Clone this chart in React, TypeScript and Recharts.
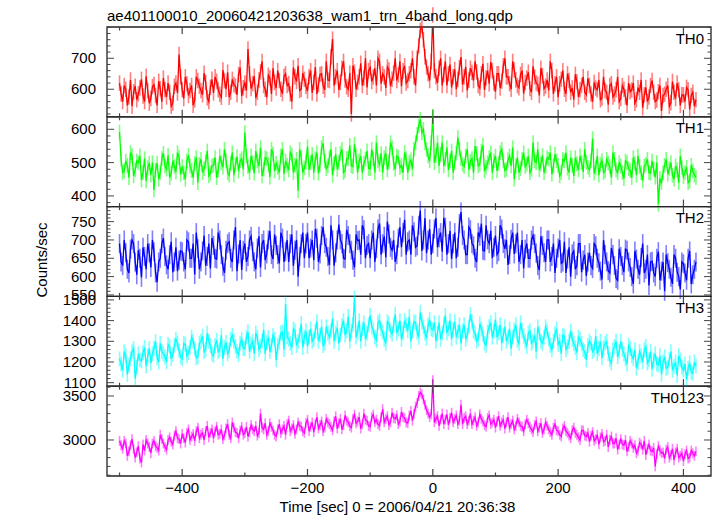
import React from 'react';
import { LineChart, Line, XAxis, YAxis, ErrorBar, ReferenceArea } from 'recharts';

const title = 'ae401100010_20060421203638_wam1_trn_4band_long.qdp';
const xLabel = 'Time [sec] 0 = 2006/04/21 20:36:38';
const yLabel = 'Counts/sec';

// time bins (s): first bin time and bin width
const binStart = -500;
const binSize = 2.5;

const th0 = [
  620,585, 560,612, 600,548, 575,630, 545,592, 610,566, 585,604, 632,578, 560,642, 595,555,
  570,608, 615,580, 548,626, 602,560, 636,598, 575,620, 590,545, 555,610, 620,588, 712,640,
  598,570, 640,618, 580,596, 612,548, 565,640, 628,610, 596,582, 652,622, 572,560, 606,632,
  588,640, 626,598, 584,574, 662,628, 600,655, 574,590, 632,615, 610,582, 648,670, 578,605,
  620,596, 730,650, 602,618, 642,572, 590,630, 656,690, 612,600, 574,645, 636,585, 668,622,
  604,660, 628,600, 586,642, 650,612, 618,585, 560,670, 640,625, 676,596, 600,652, 632,610,
  594,640, 660,588, 622,672, 585,615, 648,650, 610,598, 690,630, 628,705, 762,612, 640,660,
  598,622, 668,690, 630,608, 600,652, 520,676, 655,600, 622,640, 684,612, 636,700, 606,660,
  670,625, 640,668, 612,700, 690,618, 650,640, 604,672, 662,610, 632,652, 700,628, 646,690,
  610,660, 676,620, 628,650, 660,700, 640,612, 700,740, 790,805, 760,705, 672,650, 628,690,
  840,660, 640,620, 668,700, 612,648, 690,612, 650,680, 606,640, 664,600, 632,670, 704,615,
  640,672, 596,630, 668,655, 628,690, 656,612, 604,650, 682,598, 636,660, 618,688, 660,620,
  592,650, 650,604, 626,676, 700,640, 640,618, 600,690, 662,630, 612,605, 648,660, 586,622,
  636,655, 602,590, 674,640, 620,616, 580,668, 644,602, 610,630, 596,690, 660,585, 618,640,
  574,618, 632,660, 600,585, 650,628, 590,604, 566,648, 624,575, 598,612, 640,590, 582,635,
  612,585, 560,622, 604,598, 630,566, 572,640, 596,590, 550,612, 618,575, 584,598, 640,560,
  570,612, 600,575, 548,620, 592,598, 620,555, 566,605, 590,630, 540,582, 606,560, 575,612,
  628,590, 560,565, 592,612, 530,580, 584,600, 612,545, 556,625, 590,570, 620,598, 548,582,
  582,560, 606,598, 535,580, 590,545, 566,
];

const th1 = [
  592,510, 470,475, 505,492, 455,530, 520,460, 478,505, 500,520, 448,470, 512,445, 485,498,
  462,500, 418,478, 498,450, 470,512, 528,490, 480,522, 455,468, 505,488, 472,530, 515,465,
  488,470, 450,505, 522,490, 476,455, 498,515, 440,495, 510,470, 482,502, 535,460, 468,490,
  492,515, 455,478, 520,500, 486,540, 506,470, 462,498, 530,462, 494,518, 474,505, 512,480,
  590,520, 488,470, 520,500, 468,535, 505,490, 545,460, 480,515, 512,495, 456,540, 526,475,
  498,485, 470,520, 540,466, 505,492, 478,530, 522,470, 492,510, 416,540, 515,470, 484,502,
  548,478, 500,525, 470,512, 530,468, 495,545, 558,505, 482,490, 515,540, 462,498, 525,480,
  500,528, 540,470, 476,512, 512,552, 490,488, 555,520, 470,505, 520,470, 498,510, 535,482,
  482,540, 512,470, 560,505, 494,528, 470,515, 528,478, 502,560, 545,498, 480,520, 516,485,
  492,470, 530,512, 470,500, 508,480, 540,560, 585,610, 630,590, 600,560, 540,520, 505,560,
  640,500, 520,560, 490,525, 560,490, 510,545, 478,505, 535,470, 500,528, 575,540, 512,495,
  488,520, 540,478, 504,512, 470,550, 528,490, 495,535, 552,475, 486,500, 515,530, 470,505,
  520,475, 498,530, 540,505, 476,480, 508,520, 490,545, 450,490, 515,470, 482,510, 530,488,
  495,520, 470,480, 560,505, 500,540, 478,495, 522,470, 488,515, 510,530, 465,490, 525,505,
  492,460, 470,510, 505,530, 483,470, 515,492, 460,515, 496,478, 520,500, 472,540, 500,486,
  478,505, 572,468, 485,520, 462,495, 506,470, 475,510, 498,488, 455,530, 510,478, 470,500,
  490,470, 452,505, 500,482, 476,455, 515,498, 462,520, 488,470, 445,490, 495,510, 470,468,
  505,480, 456,500, 375,452, 440,470, 492,510, 465,482, 500,462, 450,490, 478,440, 520,485,
  458,470, 486,440, 445,492, 475,462, 455,
];

const th2 = [
  690,640, 630,700, 665,620, 610,675, 700,690, 640,605, 672,650, 598,680, 655,620, 690,665,
  625,700, 668,610, 585,640, 650,690, 705,655, 632,620, 660,695, 612,640, 680,615, 645,670,
  668,640, 620,700, 695,650, 650,690, 606,720, 676,620, 640,670, 712,630, 655,690, 622,705,
  685,650, 648,720, 700,660, 628,610, 672,690, 695,650, 640,700, 735,615, 662,700, 618,672,
  690,640, 655,700, 710,668, 640,620, 678,710, 625,690, 700,645, 662,700, 725,660, 648,715,
  685,660, 636,720, 705,640, 668,700, 640,690, 715,630, 672,700, 600,655, 690,720, 650,690,
  720,650, 678,700, 645,730, 705,640, 662,712, 735,690, 680,655, 632,740, 700,630, 665,700,
  742,700, 690,650, 648,728, 712,690, 672,645, 625,715, 698,700, 660,740, 728,650, 685,690,
  650,700, 720,640, 676,730, 745,660, 690,710, 652,750, 716,680, 672,700, 640,660, 705,735,
  680,720, 755,660, 695,700, 660,740, 722,680, 684,740, 780,670, 700,760, 664,700, 730,660,
  690,730, 760,680, 706,720, 668,760, 735,660, 690,725, 648,690, 720,650, 680,745, 776,712,
  700,660, 660,735, 728,690, 684,650, 640,720, 710,745, 672,670, 740,700, 690,725, 650,680,
  712,660, 668,740, 730,690, 676,700, 632,660, 702,720, 662,690, 720,640, 660,700, 622,675,
  690,650, 650,700, 712,690, 664,630, 618,710, 685,665, 640,700, 700,640, 655,690, 610,650,
  678,700, 636,640, 695,610, 648,680, 600,662, 670,620, 630,690, 690,612, 645,660, 602,640,
  665,630, 622,690, 684,650, 638,615, 592,700, 660,640, 616,610, 678,660, 630,595, 590,676,
  655,630, 612,675, 672,640, 625,600, 580,670, 648,620, 605,652, 690,610, 620,660, 576,640,
  642,610, 600,650, 668,590, 615,640, 560,660, 638,620, 598,580, 660,650, 612,600, 565,640,
  635,610, 590,650, 670,580, 605,620, 640,
];

const th3 = [
  1215,1190, 1160,1250, 1230,1140, 1185,1215, 1250,1265, 1120,1175, 1240,1210, 1205,1245, 1270,1180, 1230,1265,
  1195,1240, 1265,1300, 1220,1200, 1290,1250, 1240,1225, 1200,1285, 1275,1215, 1235,1280, 1310,1290, 1255,1225,
  1215,1290, 1285,1230, 1245,1270, 1320,1300, 1265,1220, 1225,1290, 1300,1325, 1250,1260, 1340,1300, 1280,1240,
  1230,1280, 1305,1250, 1260,1330, 1215,1270, 1295,1240, 1255,1310, 1330,1300, 1275,1250, 1235,1290, 1310,1265,
  1265,1320, 1345,1250, 1285,1300, 1240,1340, 1320,1260, 1275,1300, 1355,1240, 1295,1320, 1250,1280, 1330,1310,
  1210,1280, 1295,1340, 1345,1260, 1480,1320, 1310,1290, 1270,1360, 1350,1280, 1300,1330, 1385,1270, 1320,1350,
  1275,1320, 1360,1300, 1310,1350, 1395,1300, 1330,1370, 1280,1290, 1370,1340, 1320,1350, 1410,1300, 1340,1365,
  1290,1330, 1375,1400, 1330,1350, 1420,1300, 1350,1380, 1510,1320, 1345,1400, 1300,1360, 1390,1310, 1340,1380,
  1425,1370, 1355,1320, 1305,1390, 1400,1360, 1345,1310, 1290,1395, 1385,1350, 1335,1380, 1430,1340, 1360,1400,
  1310,1340, 1400,1380, 1350,1420, 1300,1350, 1395,1390, 1345,1320, 1440,1395, 1370,1340, 1315,1380, 1405,1360,
  1355,1390, 1300,1340, 1390,1310, 1340,1380, 1425,1340, 1360,1400, 1310,1355, 1395,1320, 1345,1380, 1290,1350,
  1380,1310, 1330,1370, 1430,1395, 1350,1340, 1300,1310, 1385,1360, 1335,1290, 1280,1345, 1370,1390, 1320,1350,
  1405,1320, 1340,1380, 1290,1330, 1370,1300, 1320,1360, 1265,1320, 1355,1380, 1305,1290, 1390,1350, 1325,1300,
  1275,1340, 1350,1290, 1300,1330, 1250,1370, 1340,1300, 1290,1320, 1370,1350, 1310,1280, 1260,1300, 1335,1360,
  1285,1300, 1240,1330, 1325,1260, 1275,1300, 1350,1310, 1290,1270, 1245,1320, 1310,1290, 1260,1250, 1210,1280,
  1300,1290, 1250,1260, 1325,1240, 1265,1300, 1220,1270, 1290,1300, 1240,1210, 1195,1260, 1275,1300, 1225,1250,
  1300,1260, 1240,1215, 1190,1280, 1265,1230, 1215,1260, 1170,1200, 1250,1230, 1200,1260, 1275,1195, 1210,1250,
  1165,1210, 1240,1190, 1185,1230, 1140,1200, 1225,1170, 1175,1210, 1250,1160, 1180,1200, 1135,1230, 1210,1175,
  1160,1190, 1115,1170, 1195,1150, 1145,1200, 1180,
];

const th0123 = [
  2990,2940, 2900,2990, 2960,2820, 2870,2940, 3010,2900, 2800,2860, 2930,2790, 2745,2950, 2880,3000, 2960,2920,
  2850,2960, 2990,2930, 2910,2880, 3060,3010, 2960,2920, 2890,3000, 3030,2980, 2950,3050, 3100,3020, 3010,2960,
  3070,3020, 2970,3080, 3120,3000, 3040,3070, 2990,3100, 3140,3020, 3060,3080, 3000,3100, 3160,3030, 3080,3120,
  3020,3100, 3150,3060, 3070,3120, 3010,3050, 3130,3180, 3060,3020, 3200,3140, 3090,3080, 3020,3110, 3150,3060,
  3080,3150, 3040,3090, 3170,3120, 3100,3160, 3050,3080, 3300,3140, 3120,3190, 3060,3100, 3190,3150, 3110,3060,
  3040,3120, 3180,3080, 3120,3160, 3060,3180, 3220,3100, 3130,3170, 3070,3120, 3200,3160, 3150,3100, 3080,3190,
  3230,3100, 3150,3200, 3090,3180, 3260,3130, 3170,3210, 3100,3140, 3240,3200, 3180,3150, 3110,3210, 3270,3130,
  3190,3240, 3120,3170, 3280,3220, 3200,3160, 3140,3240, 3290,3190, 3210,3260, 3130,3180, 3300,3230, 3220,3160,
  3150,3260, 3290,3200, 3230,3180, 3160,3260, 3350,3200, 3240,3270, 3170,3200, 3310,3250, 3240,3280, 3180,3210,
  3320,3260, 3250,3200, 3190,3280, 3330,3220, 3300,3380, 3420,3500, 3540,3520, 3460,3400, 3340,3300, 3260,3290,
  3680,3200, 3240,3270, 3160,3230, 3300,3180, 3230,3290, 3170,3250, 3310,3200, 3240,3280, 3180,3220, 3400,3180,
  3250,3270, 3180,3220, 3300,3180, 3220,3260, 3160,3200, 3290,3240, 3210,3170, 3150,3250, 3280,3180, 3200,3230,
  3140,3210, 3270,3160, 3200,3230, 3130,3200, 3260,3140, 3180,3220, 3120,3160, 3240,3200, 3160,3150, 3100,3180,
  3230,3190, 3150,3120, 3090,3170, 3210,3100, 3140,3190, 3080,3120, 3200,3160, 3120,3090, 3060,3140, 3180,3110,
  3100,3060, 3040,3130, 3160,3100, 3080,3050, 3020,3110, 3140,3080, 3060,3030, 3000,3110, 3110,3050, 3040,3080,
  2980,3050, 3090,2990, 3010,3060, 2950,3030, 3070,2980, 2990,3060, 2920,3000, 3040,2960, 2960,3020, 2890,2950,
  3010,2950, 2940,3000, 2870,2920, 2990,2960, 2910,2940, 2850,2880, 2970,2950, 2890,2990, 2830,2900, 2950,2880,
  2870,2910, 2700,2840, 2930,2880, 2850,2860, 2790,2890, 2920,2800, 2830,2900, 2770,2860, 2900,2800, 2820,2850,
  2760,2840, 2880,2790, 2800,2880, 2850,2820, 2870,
];

// 1-sigma errors per bin (counts/sec)
const errTH0 = 25;
const errTH1 = 22;
const errTH2 = 26;
const errTH3 = 36;
const errTH0123 = 56;

const xTicks = [-500, -400, -300, -200, -100, 0, 100, 200, 300, 400];
const xMajorTicks = [-400, -200, 0, 200, 400];

const W = 717;
const H = 516;
const PLOT_LEFT = 107;
const PLOT_RIGHT = 711;
const PLOT_W = PLOT_RIGHT - PLOT_LEFT;
const X_AXIS_H = 30;
const panelTops = [27, 116.8, 206.6, 296.4, 386.2];
const PANEL_H = 89.8;
const FONT = '"Liberation Sans", Arial, Helvetica, sans-serif';
const TICK_COLOR = '#444';

const makeTicks = (lo: number, hi: number, step: number) => {
  const out: number[] = [];
  const start = Math.ceil(lo / step) * step;
  for (let v = start; v <= hi; v += step) out.push(v);
  return out;
};

const panels = [
  { name: 'TH0', values: th0, err: errTH0, color: '#ff0000', domain: [511, 801], minor: 20, major: [600, 700] },
  { name: 'TH1', values: th1, err: errTH1, color: '#00ff00', domain: [368, 637.5], minor: 20, major: [400, 500, 600] },
  { name: 'TH2', values: th2, err: errTH2, color: '#0000ff', domain: [546, 791], minor: 10, major: [550, 600, 650, 700, 750] },
  { name: 'TH3', values: th3, err: errTH3, color: '#00ffff', domain: [1083, 1517], minor: 20, major: [1100, 1200, 1300, 1400, 1500] },
  { name: 'TH0123', values: th0123, err: errTH0123, color: '#ff00ff', domain: [2591, 3611], minor: 100, major: [3000, 3500] },
];

const YTick = (props: any) => {
  const { x, y, payload, major } = props;
  const isMajor = major.includes(payload.value);
  const len = isMajor ? 7 : 3.5;
  return (
    <g>
      <line x1={x} y1={y} x2={x + len} y2={y} stroke={TICK_COLOR} strokeWidth={1} />
      <line x1={x + PLOT_W} y1={y} x2={x + PLOT_W - len} y2={y} stroke={TICK_COLOR} strokeWidth={1} />
      {isMajor && (
        <text x={x - 11} y={y + 5} textAnchor="end" fontFamily={FONT} fontSize={15} fill="#000">
          {payload.value}
        </text>
      )}
    </g>
  );
};

const XTick = (props: any) => {
  const { x, y, payload, showLabels } = props;
  const isMajor = xMajorTicks.includes(payload.value);
  const len = isMajor ? 7 : 3.5;
  const label = payload.value < 0 ? '\u2212' + Math.abs(payload.value) : String(payload.value);
  return (
    <g>
      <line x1={x} y1={y} x2={x} y2={y - len} stroke={TICK_COLOR} strokeWidth={1.2} />
      <line x1={x} y1={y - PANEL_H} x2={x} y2={y - PANEL_H + len} stroke={TICK_COLOR} strokeWidth={1.2} />
      {showLabels && isMajor && (
        <text x={x} y={y + 17} textAnchor="middle" fontFamily={FONT} fontSize={15} fill="#000">
          {label}
        </text>
      )}
    </g>
  );
};

const Panel = ({ idx }: { idx: number }) => {
  const p = panels[idx];
  const top = panelTops[idx];
  const bottom = H - X_AXIS_H - (top + PANEL_H);
  const data = p.values.map((v, i) => ({ t: binStart + i * binSize, v, e: p.err }));
  const yTicks = makeTicks(p.domain[0], p.domain[1], p.minor);
  const showLabels = idx === panels.length - 1;
  return (
    <div style={{ position: 'absolute', left: 0, top: 0 }}>
      <LineChart width={W} height={H} data={data} margin={{ top, right: W - PLOT_RIGHT, bottom, left: PLOT_LEFT - 60 }}>
        <XAxis
          dataKey="t"
          type="number"
          domain={[-520, 444]}
          allowDataOverflow
          ticks={xTicks}
          interval={0}
          height={X_AXIS_H}
          tickSize={0}
          tickMargin={0}
          tickLine={false}
          axisLine={false}
          tick={(tp: any) => <XTick {...tp} showLabels={showLabels} />}
        />
        <YAxis
          type="number"
          domain={p.domain}
          allowDataOverflow
          ticks={yTicks}
          interval={0}
          width={60}
          tickSize={0}
          tickMargin={0}
          tickLine={false}
          axisLine={false}
          tick={(tp: any) => <YTick {...tp} major={p.major} />}
        />
        <Line
          type="linear"
          dataKey="v"
          stroke={p.color}
          strokeWidth={1.3}
          dot={false}
          isAnimationActive={false}
        >
          <ErrorBar dataKey="e" width={0} stroke={p.color} strokeOpacity={0.5} strokeWidth={1.6} direction="y" isAnimationActive={false} />
        </Line>
        <ReferenceArea
          x1={-520}
          x2={444}
          y1={p.domain[0]}
          y2={p.domain[1]}
          fill="none"
          stroke="#222"
          strokeWidth={1.3}
          ifOverflow="visible"
        />
      </LineChart>
    </div>
  );
};

export default function App() {
  return (
    <div style={{ position: 'absolute', left: 0, top: 0, width: W, height: H, background: '#fff', overflow: 'hidden' }}>
      {panels.map((_, i) => (
        <Panel key={i} idx={i} />
      ))}
      <svg width={W} height={H} style={{ position: 'absolute', left: 0, top: 0, pointerEvents: 'none' }}>
        <text x={PLOT_LEFT} y={20.5} fontFamily={FONT} fontSize={15} fill="#000">{title}</text>
        <text x={397.5} y={511.5} textAnchor="middle" fontFamily={FONT} fontSize={15} fill="#000">{xLabel}</text>
        <text x={46.5} y={260} textAnchor="middle" fontFamily={FONT} fontSize={15} fill="#000" transform="rotate(-90, 46.5, 260)">{yLabel}</text>
        {panels.map((p, i) => (
          <text key={p.name} x={704} y={panelTops[i] + 16.5} textAnchor="end" fontFamily={FONT} fontSize={15} fill="#000">{p.name}</text>
        ))}
      </svg>
    </div>
  );
}
